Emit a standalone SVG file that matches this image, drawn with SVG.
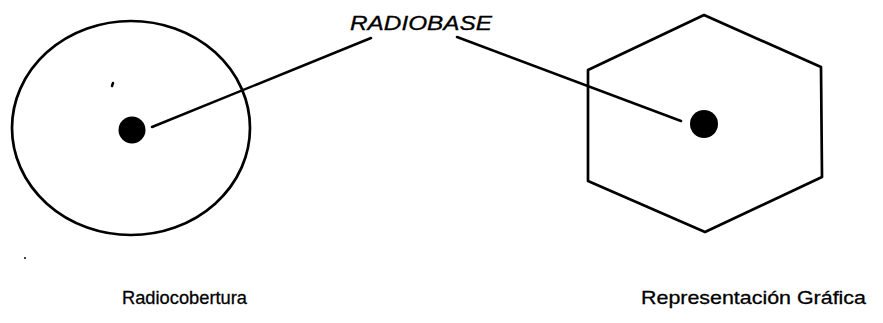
<svg xmlns="http://www.w3.org/2000/svg" width="883" height="323" viewBox="0 0 883 323">
  <style>
    .outline { fill: none; stroke: #000; stroke-width: 2.7; stroke-linejoin: round; }
    .lead { fill: none; stroke: #000; stroke-width: 2.5; stroke-linecap: round; }
    .site { fill: #000; }
    .label { font-family: "Liberation Sans", Arial, sans-serif; font-size: 19px; fill: #000; stroke: #000; stroke-width: 0.3; }
    .title { font-family: "Liberation Sans", Arial, sans-serif; font-size: 20px; font-style: italic; fill: #000; stroke: #000; stroke-width: 0.3; }
  </style>
  <rect width="883" height="323" fill="#fff"/>

  <!-- coverage area of the base station -->
  <g id="radiocobertura">
    <ellipse class="outline" cx="131" cy="128" rx="119" ry="107"/>
    <circle class="site" cx="132" cy="130" r="13.5"/>
    <text class="label" x="122" y="304" textLength="125" lengthAdjust="spacingAndGlyphs">Radiocobertura</text>
  </g>

  <!-- hexagonal cell model -->
  <g id="representacion">
    <polygon class="outline" points="704,15 821,67 822,177 705,232 588,181 588,70"/>
    <circle class="site" cx="704" cy="124" r="14"/>
    <text class="label" x="641" y="304" textLength="225" lengthAdjust="spacingAndGlyphs">Representación Gráfica</text>
  </g>

  <g id="radiobase">
    <text class="title" x="350" y="30" textLength="142" lengthAdjust="spacingAndGlyphs">RADIOBASE</text>
  </g>

  <!-- leader lines from the label to each station -->
  <g id="connectors">
    <line class="lead" x1="152" y1="127" x2="371" y2="38"/>
    <line class="lead" x1="457" y1="37" x2="681" y2="121"/>
  </g>

  <!-- specks in the print -->
  <g id="specks">
    <line class="lead" x1="112" y1="86" x2="113" y2="83" stroke-width="1.5"/>
    <circle class="site" cx="25" cy="258" r="1"/>
  </g>
</svg>
